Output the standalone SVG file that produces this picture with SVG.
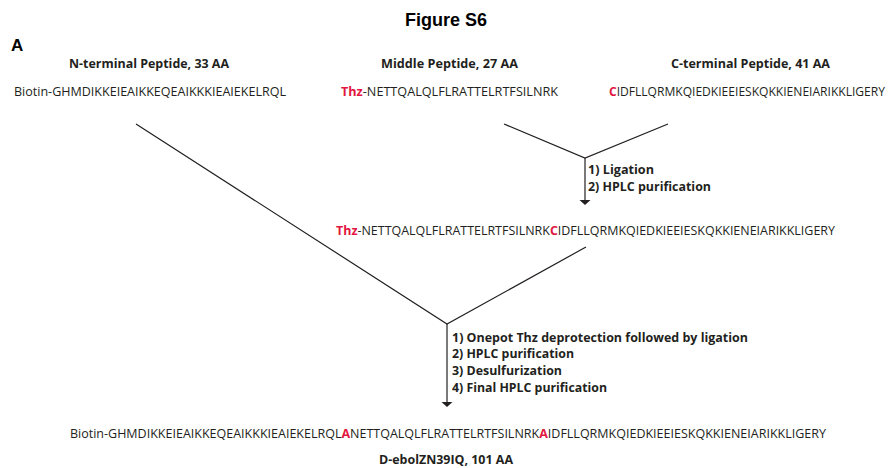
<svg xmlns="http://www.w3.org/2000/svg" width="893" height="468" viewBox="0 0 893 468">
<style>
.t{font-family:"Open Sans","Liberation Sans",sans-serif;font-size:12.5px;fill:#231f20}
.b{font-family:"Open Sans","Liberation Sans",sans-serif;font-size:12px;font-weight:bold;fill:#231f20}
.s{font-family:"Open Sans","Liberation Sans",sans-serif;font-size:11.5px;font-weight:bold;fill:#231f20}
.h{font-family:"Liberation Sans",Arial,sans-serif;font-weight:bold;fill:#000}
.r{fill:#e2163f;font-weight:bold}
.ln{stroke:#231f20;stroke-width:1.2;fill:none}
</style>
<defs>
<marker id="ah" markerWidth="11" markerHeight="5" refX="5.5" refY="0" orient="0" markerUnits="userSpaceOnUse" viewBox="0 0 11 5" overflow="visible">
<path d="M0,0 L11,0 L5.5,5 Z" fill="#231f20"/>
</marker>
</defs>
<g id="title">
<text class="h" x="446" y="26" font-size="18" text-anchor="middle" textLength="82" lengthAdjust="spacingAndGlyphs">Figure S6</text>
<text class="h" x="11" y="51" font-size="17">A</text>
</g>
<g id="n-terminal">
<text class="b" x="69" y="68" textLength="160" lengthAdjust="spacingAndGlyphs">N-terminal Peptide, 33 AA</text>
<text class="t" x="14" y="96" textLength="272" lengthAdjust="spacingAndGlyphs">Biotin-GHMDIKKEIEAIKKEQEAIKKKIEAIEKELRQL</text>
</g>
<g id="middle">
<text class="b" x="381" y="68" textLength="137" lengthAdjust="spacingAndGlyphs">Middle Peptide, 27 AA</text>
<text class="t" x="341" y="96" textLength="217" lengthAdjust="spacingAndGlyphs"><tspan class="r">Thz</tspan>-NETTQALQLFLRATTELRTFSILNRK</text>
</g>
<g id="c-terminal">
<text class="b" x="671" y="68" textLength="159" lengthAdjust="spacingAndGlyphs">C-terminal Peptide, 41 AA</text>
<text class="t" transform="translate(609,96) scale(1,1.13)" x="0" y="0" style="font-size:11px" textLength="276" lengthAdjust="spacingAndGlyphs"><tspan class="r">C</tspan>IDFLLQRMKQIEDKIEEIESKQKKIENEIARIKKLIGERY</text>
</g>
<g id="intermediate">
<text class="t" x="336" y="235" textLength="499" lengthAdjust="spacingAndGlyphs"><tspan class="r">Thz</tspan>-NETTQALQLFLRATTELRTFSILNRK<tspan class="r">C</tspan>IDFLLQRMKQIEDKIEEIESKQKKIENEIARIKKLIGERY</text>
</g>
<g id="product">
<text class="t" x="70" y="438" textLength="756" lengthAdjust="spacingAndGlyphs">Biotin-GHMDIKKEIEAIKKEQEAIKKKIEAIEKELRQL<tspan class="r">A</tspan>NETTQALQLFLRATTELRTFSILNRK<tspan class="r">A</tspan>IDFLLQRMKQIEDKIEEIESKQKKIENEIARIKKLIGERY</text>
<text class="b" x="446" y="464" text-anchor="middle" textLength="134" lengthAdjust="spacingAndGlyphs">D-ebolZN39IQ, 101 AA</text>
</g>
<g id="step1-labels">
<text class="s" x="588" y="174" textLength="66" lengthAdjust="spacingAndGlyphs">1) Ligation</text>
<text class="s" x="588" y="191" textLength="123" lengthAdjust="spacingAndGlyphs">2) HPLC purification</text>
</g>
<g id="step2-labels">
<text class="s" x="452" y="342" textLength="296" lengthAdjust="spacingAndGlyphs">1) Onepot Thz deprotection followed by ligation</text>
<text class="s" x="452" y="358" textLength="122" lengthAdjust="spacingAndGlyphs">2) HPLC purification</text>
<text class="s" x="452" y="375" textLength="110" lengthAdjust="spacingAndGlyphs">3) Desulfurization</text>
<text class="s" x="452" y="392" textLength="155" lengthAdjust="spacingAndGlyphs">4) Final HPLC purification</text>
</g>
<g id="connectors">
<polyline class="ln" points="504,124 585,158 668,124"/>
<line class="ln" x1="585" y1="158" x2="585" y2="200" marker-end="url(#ah)"/>
<polyline class="ln" points="136,124 447,324 586,247"/>
<line class="ln" x1="447" y1="324" x2="447" y2="402" marker-end="url(#ah)"/>
</g>
</svg>
